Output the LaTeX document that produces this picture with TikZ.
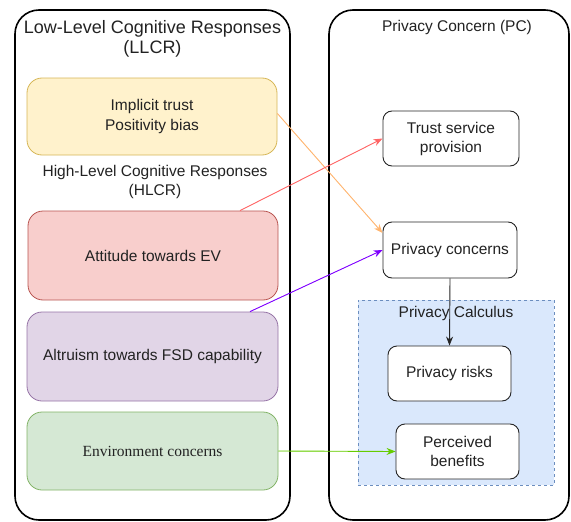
\documentclass[tikz,border=0pt]{standalone}
\usepackage{fontspec}
\setmainfont{Liberation Sans}
\newfontfamily\serifface{Liberation Serif}
\usetikzlibrary{arrows.meta}
\definecolor{txt}{HTML}{222222}
\definecolor{ylwF}{HTML}{FFF2CC}\definecolor{ylwD}{HTML}{D6B656}
\definecolor{redF}{HTML}{F8CECC}\definecolor{redD}{HTML}{B85450}
\definecolor{purF}{HTML}{E1D5E7}\definecolor{purD}{HTML}{9673A6}
\definecolor{grnF}{HTML}{D5E8D4}\definecolor{grnD}{HTML}{82B366}
\definecolor{bluF}{HTML}{DAE8FC}\definecolor{bluD}{HTML}{6C8EBF}
\definecolor{lnOrange}{HTML}{FFB570}
\definecolor{lnRed}{HTML}{FF6666}
\definecolor{lnPurple}{HTML}{7F00FF}
\definecolor{lnGreen}{HTML}{66CC00}
\tikzset{
  group/.style={draw=black, line width=1.6pt, rounded corners=24pt, inner sep=0pt},
  factor/.style={draw=#1D, fill=#1F, line width=0.8pt, rounded corners=15pt, inner sep=0pt,
    align=center, text=txt, font=\fontsize{15.5}{20}\selectfont},
  pcbox/.style={draw=black!85, fill=white, line width=0.9pt, rounded corners=9pt, inner sep=0pt,
    align=center, text=txt, font=\fontsize{15.5}{19}\selectfont},
  link/.style={line width=0.9pt, -{Stealth[length=9pt,width=7pt]}},
  lbl/.style={align=center, text=txt, inner sep=0pt}
}
\begin{document}
\begin{tikzpicture}[x=1pt,y=-1pt]
\useasboundingbox (0,0) rectangle (571,522);
% outer groups
\node[group, minimum width=275pt, minimum height=510pt] (llcr) at (152.5,265) {};
\node[group, minimum width=240pt, minimum height=510pt] (pc) at (449,265) {};
\node[lbl, font=\fontsize{18}{20.5}\selectfont] (llcrT) at (152.5,39) {Low-Level Cognitive Responses\\(LLCR)};
\node[lbl, font=\fontsize{15.5}{18}\selectfont] (pcT) at (457,27) {Privacy Concern (PC)};
% privacy calculus region
\node[draw=bluD, fill=bluF, dashed, line width=0.8pt, minimum width=196pt, minimum height=185pt, inner sep=0pt] (calc) at (456,392.5) {};
\node[lbl, font=\fontsize{15.5}{18}\selectfont] (calcT) at (456,313) {Privacy Calculus};
% left factors
\node[factor=ylw, minimum width=250pt, minimum height=77pt] (trust) at (152,116.5) {Implicit trust\\Positivity bias};
\node[lbl, font=\fontsize{15.5}{19}\selectfont] (hlcrT) at (155,182) {High-Level Cognitive Responses\\(HLCR)};
\node[factor=red, minimum width=250pt, minimum height=89pt] (att) at (153,255.5) {Attitude towards EV};
\node[factor=pur, minimum width=251pt, minimum height=89pt] (alt) at (152.5,356.5) {Altruism towards FSD capability};
\node[factor=grn, minimum width=251pt, minimum height=78pt, font=\serifface\fontsize{15.5}{18}\selectfont] (env) at (152.5,451) {Environment concerns};
% privacy concern boxes
\node[pcbox, minimum width=136pt, minimum height=55pt] (tsp) at (451,138.5) {Trust service\\provision};
\node[pcbox, minimum width=134pt, minimum height=56pt] (pcon) at (450,250) {Privacy concerns};
\node[pcbox, minimum width=123pt, minimum height=55pt] (risk) at (449.5,373.5) {Privacy risks};
\node[pcbox, minimum width=123pt, minimum height=55pt] (bene) at (457.5,451.5) {Perceived\\benefits};
% connectors
\draw[link, draw=lnOrange, fill=lnOrange] ([yshift=3pt]trust.east) -- ([yshift=17pt]pcon.west);
\draw[link, draw=lnRed, fill=lnRed] ([xshift=87pt]att.north) -- (tsp.west);
\draw[link, draw=lnPurple, fill=lnPurple] ([xshift=97.5pt]alt.north) -- (pcon.west);
\draw[link, draw=lnGreen, fill=lnGreen] (env.east) -- (bene.west);
\draw[link, draw=black!85] (pcon.south) -- (risk.north);
\end{tikzpicture}
\end{document}
